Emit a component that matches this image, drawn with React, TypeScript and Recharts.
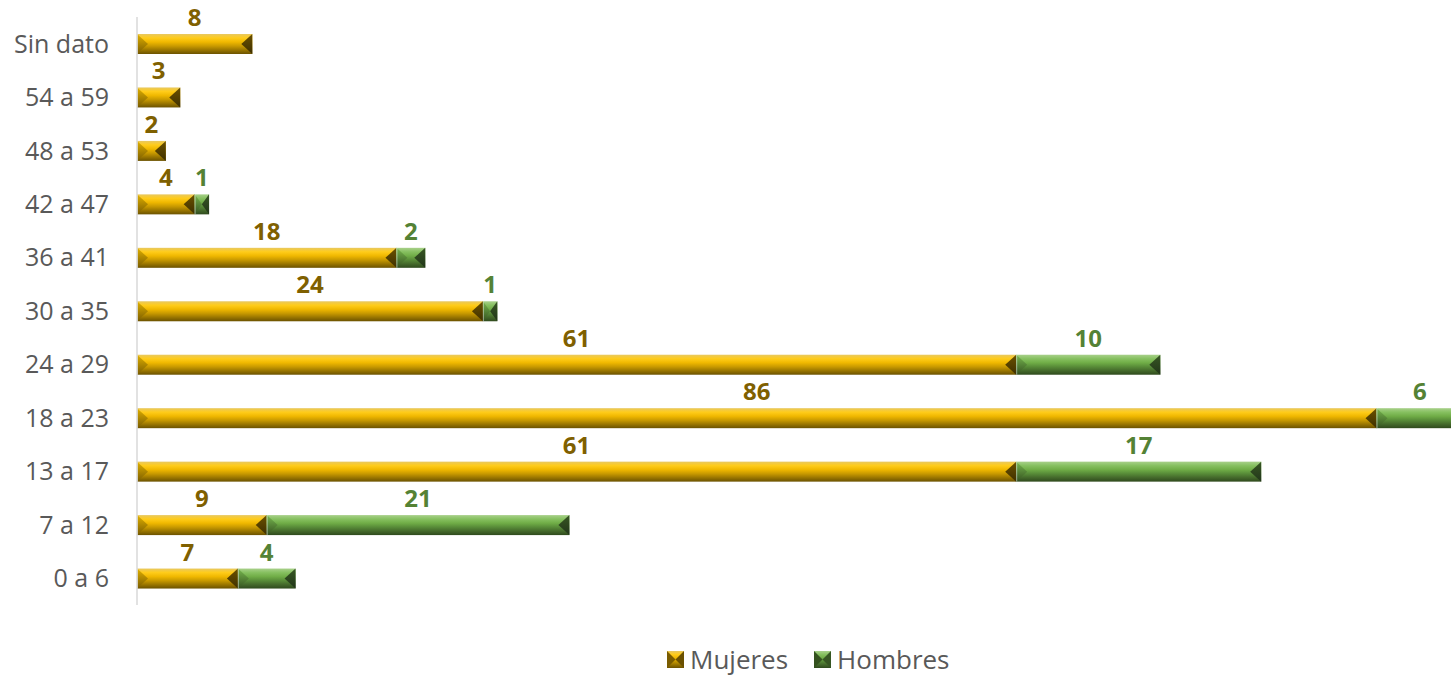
import React from 'react';
import { BarChart, Bar, XAxis, YAxis, LabelList, Legend } from 'recharts';

const categories = ['Sin dato', '54 a 59', '48 a 53', '42 a 47', '36 a 41', '30 a 35', '24 a 29', '18 a 23', '13 a 17', '7 a 12', '0 a 6'];
const mujeres = [8, 3, 2, 4, 18, 24, 61, 86, 61, 9, 7];
const hombres = [0, 0, 0, 1, 2, 1, 10, 6, 17, 21, 4];
const seriesNames = ['Mujeres', 'Hombres'];

const data = categories.map((c, i) => ({ cat: c, mujeres: mujeres[i], hombres: hombres[i] }));

const PALETTE: Record<string, any> = {
  gold: {
    stops: ['#e8c860', '#ffcc1a', '#f0b800', '#c99a00', '#9a7600', '#6b5200'],
    left: ['#e0b000', '#7a5c00'],
    right: ['#6a5000', '#3f3000'],
    label: '#7f6000',
  },
  green: {
    stops: ['#a8d08a', '#86c060', '#70ad47', '#588c38', '#44692b', '#2f4a1d'],
    left: ['#78b850', '#34521f'],
    right: ['#375623', '#22361a'],
    label: '#548235',
  },
};

function Defs() {
  return (
    <defs>
      {Object.keys(PALETTE).map((k) => {
        const p = PALETTE[k];
        return (
          <React.Fragment key={k}>
            <linearGradient id={`v-${k}`} x1="0" y1="0" x2="0" y2="1">
              {p.stops.map((s: string, i: number) => (
                <stop key={i} offset={`${(i / (p.stops.length - 1)) * 100}%`} stopColor={s} />
              ))}
            </linearGradient>
            <linearGradient id={`l-${k}`} x1="0" y1="0" x2="0" y2="1">
              <stop offset="0%" stopColor={p.left[0]} />
              <stop offset="100%" stopColor={p.left[1]} />
            </linearGradient>
            <linearGradient id={`r-${k}`} x1="0" y1="0" x2="0" y2="1">
              <stop offset="0%" stopColor={p.right[0]} />
              <stop offset="100%" stopColor={p.right[1]} />
            </linearGradient>
          </React.Fragment>
        );
      })}
    </defs>
  );
}

function bevelShape(kind: string) {
  return (props: any) => {
    const { x, y, width: w, height: h } = props;
    if (!w || w <= 0) return <g />;
    const b = Math.min(h * 0.55, w / 2);
    const pts = (arr: number[][]) => arr.map((p) => p.join(',')).join(' ');
    return (
      <g>
        <rect x={x} y={y} width={w} height={h} fill={`url(#v-${kind})`} />
        <polygon points={pts([[x, y], [x + b, y + h / 2], [x, y + h]])} fill={`url(#l-${kind})`} />
        <polygon points={pts([[x + w, y], [x + w - b, y + h / 2], [x + w, y + h]])} fill={`url(#r-${kind})`} />
        <line x1={x + 0.5} y1={y} x2={x + 0.5} y2={y + h} stroke="#f2f2f2" strokeOpacity={0.5} />
      </g>
    );
  };
}

function labelRenderer(color: string) {
  return (props: any) => {
    const { x, y, width, value } = props;
    if (!value) return null;
    return (
      <text
        x={x + width / 2}
        y={y - 8}
        textAnchor="middle"
        fill={color}
        fontSize={24}
        fontWeight="bold"
        fontFamily="'Open Sans', sans-serif"
      >
        {value}
      </text>
    );
  };
}

function LegendIcon({ kind }: { kind: string }) {
  return (
    <svg width={17} height={17} style={{ display: 'block' }}>
      <rect x={0} y={0} width={17} height={17} fill={`url(#lg-v-${kind})`} />
      <defs>
        <linearGradient id={`lg-v-${kind}`} x1="0" y1="0" x2="0" y2="1">
          {PALETTE[kind].stops.map((s: string, i: number) => (
            <stop key={i} offset={`${(i / (PALETTE[kind].stops.length - 1)) * 100}%`} stopColor={s} />
          ))}
        </linearGradient>
      </defs>
      <polygon points="0,0 8.5,8.5 0,17" fill={PALETTE[kind].left[1]} />
      <polygon points="17,0 8.5,8.5 17,17" fill={PALETTE[kind].right[0]} />
    </svg>
  );
}

function CustomLegend() {
  const kinds = ['gold', 'green'];
  return (
    <div style={{ display: 'flex', alignItems: 'center', paddingLeft: 667, fontFamily: "'Open Sans', sans-serif", fontSize: 26, color: '#595959' }}>
      {seriesNames.map((n, i) => (
        <div key={n} style={{ display: 'flex', alignItems: 'center', marginRight: 26 }}>
          <LegendIcon kind={kinds[i]} />
          <span style={{ marginLeft: 6, lineHeight: '30px' }}>{n}</span>
        </div>
      ))}
    </div>
  );
}

export default function App() {
  return (
    <div style={{ position: 'fixed', left: 0, top: 0, width: 1451, height: 677, overflow: 'hidden', background: '#fff' }}>
      <BarChart
        layout="vertical"
        width={1480}
        height={677}
        data={data}
        margin={{ top: 17, right: 17, bottom: 72, left: 0 }}
      >
        <Defs />
        <XAxis type="number" domain={[0, 92]} hide />
        <YAxis
          type="category"
          dataKey="cat"
          width={137}
          axisLine={{ stroke: '#d9d9d9', strokeWidth: 1.5 }}
          tickLine={false}
          tickSize={0}
          tickMargin={28}
          interval={0}
          tick={{ fill: '#595959', fontSize: 25, fontFamily: "'Open Sans', sans-serif" }}
        />
        <Legend
          layout="horizontal"
          verticalAlign="middle"
          align="center"
          wrapperStyle={{ top: 644, left: 0, width: 1451 }}
          content={() => <CustomLegend />}
        />
        <Bar dataKey="mujeres" name={seriesNames[0]} stackId="a" barSize={20} shape={bevelShape('gold')} isAnimationActive={false}>
          <LabelList dataKey="mujeres" content={labelRenderer(PALETTE.gold.label)} />
        </Bar>
        <Bar dataKey="hombres" name={seriesNames[1]} stackId="a" barSize={20} shape={bevelShape('green')} isAnimationActive={false}>
          <LabelList dataKey="hombres" content={labelRenderer(PALETTE.green.label)} />
        </Bar>
      </BarChart>
    </div>
  );
}
